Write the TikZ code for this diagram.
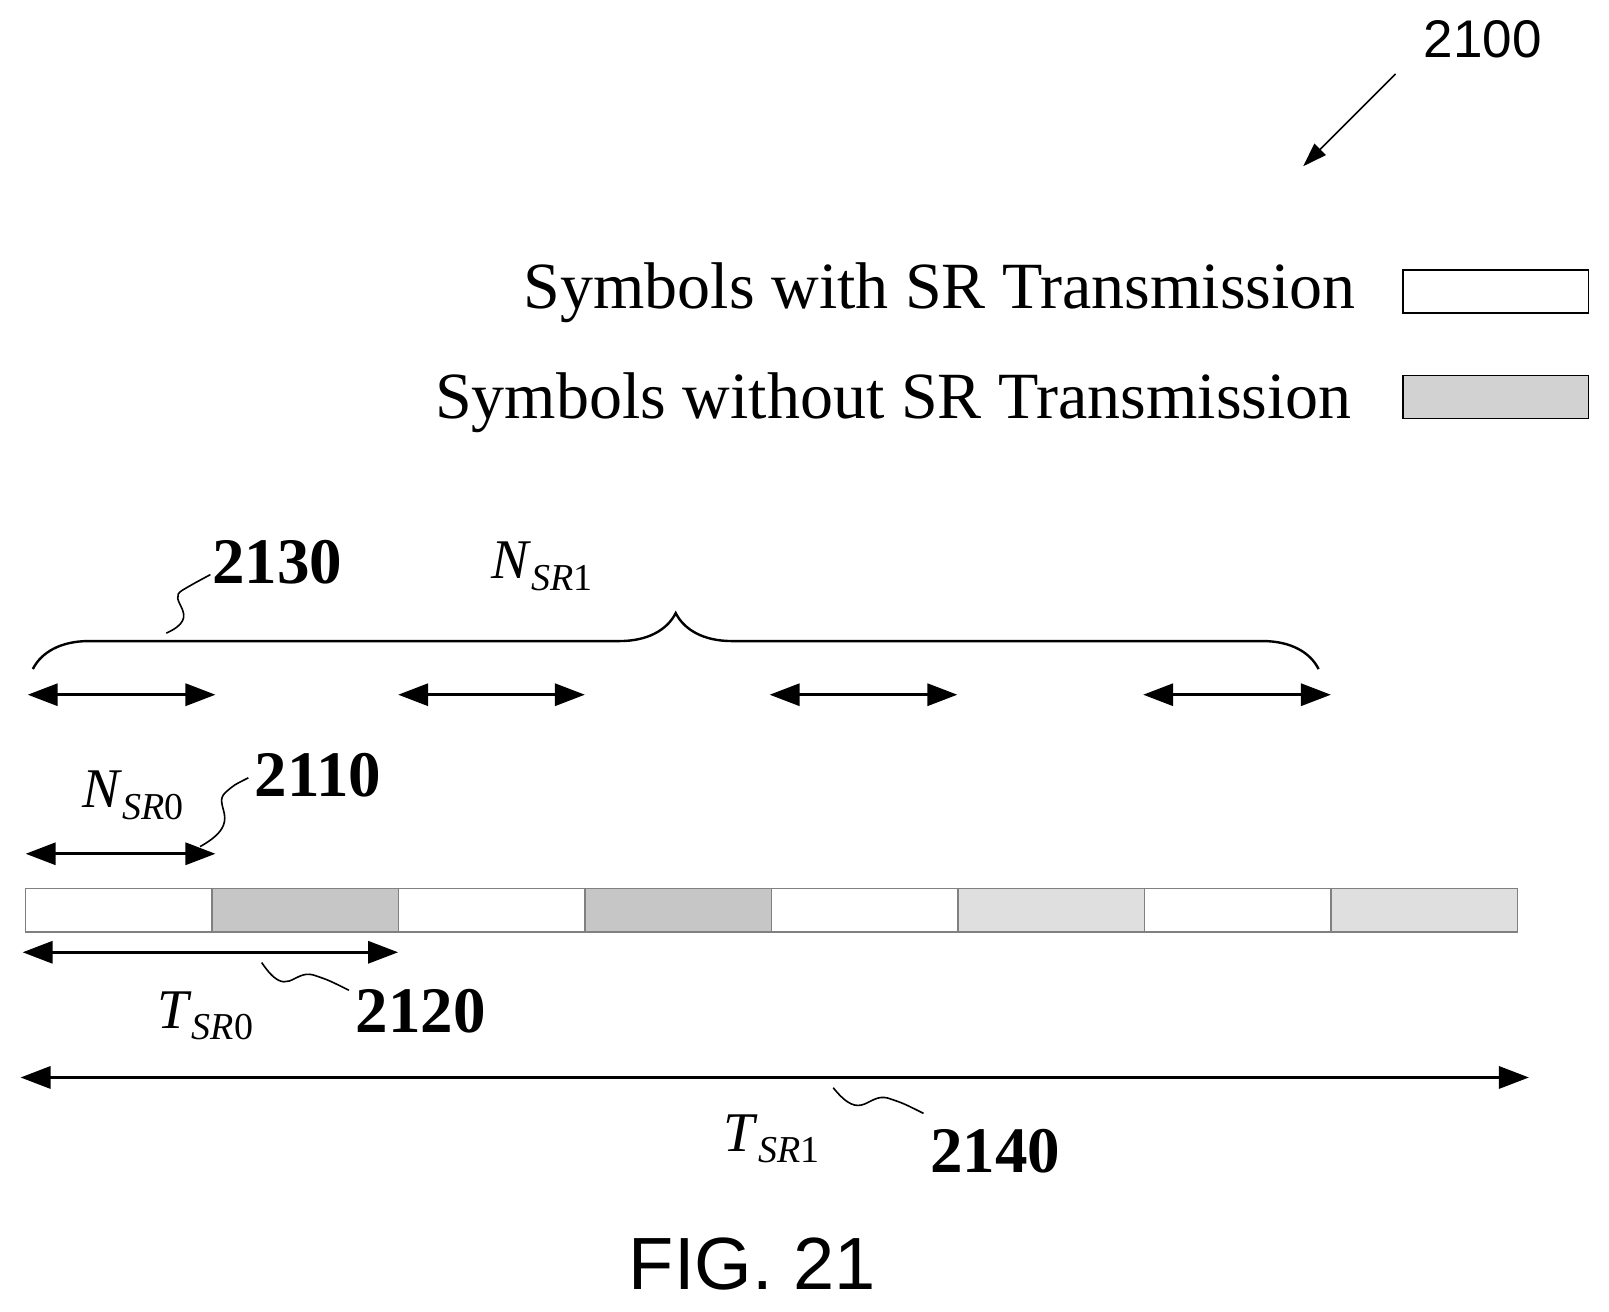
\documentclass[tikz,border=0pt]{standalone}
\usepackage{fontspec}
\setmainfont{Liberation Serif}
\setsansfont{Liberation Sans}
\usetikzlibrary{arrows.meta,decorations.pathreplacing}
\tikzset{every picture/.style={line width=0.75pt}}
\tikzset{
  dim/.style={line width=1.6pt,{Triangle[length=15pt,width=11pt]}-{Triangle[length=15pt,width=11pt]}},
  refnum/.style={font=\fontsize{32.5}{36}\selectfont\bfseries,inner sep=0pt},
  symlabel/.style={font=\fontsize{28}{31}\selectfont,inner sep=0pt},
  squig/.style={line width=0.8pt}
}
\newcommand{\symb}[2]{\textit{#1}\raisebox{-0.45ex}{\fontsize{19}{21}\selectfont\textit{SR}#2}}
\begin{document}
\begin{tikzpicture}[x=0.513pt,y=-0.513pt]
	\useasboundingbox (0,0) rectangle (1568,1278);

	%reference numeral
	\node (fignum) [font=\sffamily\fontsize{26.5}{30}\selectfont,inner sep=0pt] at (1445,38) {2100};
	\draw [-{Triangle[length=12pt,width=8pt]}] (1360,72) -- (1270,162);

	%legend
	\node (legwith) [font=\fontsize{33}{36}\selectfont,anchor=east,inner sep=0pt] at (1322,285) {Symbols with SR Transmission};
	\node (legwithout) [font=\fontsize{33}{36}\selectfont,anchor=east,inner sep=0pt] at (1318,392) {Symbols without SR Transmission};
	\draw [fill=white] (1367,263) rectangle (1548,305);
	\draw [fill=gray!35] (1367,366) rectangle (1548,408);

	%brace
	\draw [line width=1.2pt,decorate,decoration={brace,amplitude=28pt,aspect=0.5}] (32,652) -- (1285,652);
	\node (nsr1) [symlabel] at (528,552) {\symb{N}{1}};
	\node (n2130) [refnum] at (270,548) {2130};
	\draw [squig] (162,617) .. controls (200,600) and (160,585) .. (178,575) .. controls (190,568) .. (205,560);

	%period arrows
	\foreach \xa/\xb in {27/210,388/570,750/933,1114/1297}
	  \draw [dim] (\xa,677) -- (\xb,677);

	%N_SR0
	\node (nsr0) [symlabel] at (130,775) {\symb{N}{0}};
	\node (n2110) [refnum] at (310,755) {2110};
	\draw [squig] (195,825) .. controls (240,800) and (205,785) .. (220,772) .. controls (228,765) .. (242,758);
	\draw [dim] (25,832) -- (210,832);

	%symbol bar
	\foreach \i in {0,...,7} {
	  \pgfmathsetmacro{\xa}{25+\i*181.75}
	  \pgfmathsetmacro{\xb}{25+(\i+1)*181.75}
	  \ifodd\i
	    \ifnum\i<4 \draw [draw=gray,fill=gray!45] (\xa,866) rectangle (\xb,908);
	    \else \draw [draw=gray,fill=gray!25] (\xa,866) rectangle (\xb,908); \fi
	  \else
	    \draw [draw=gray,fill=white] (\xa,866) rectangle (\xb,908);
	  \fi
	}

	%T_SR0
	\draw [dim] (22,928) -- (388,928);
	\draw [squig] (255,938) .. controls (280,975) and (285,945) .. (305,950) .. controls (320,955) .. (340,965);
	\node (tsr0) [symlabel] at (200,990) {\symb{T}{0}};
	\node (n2120) [refnum] at (410,985) {2120};

	%T_SR1
	\draw [dim] (20,1050) -- (1490,1050);
	\draw [squig] (812,1060) .. controls (840,1095) and (845,1065) .. (865,1070) .. controls (880,1075) .. (900,1085);
	\node (tsr1) [symlabel] at (752,1110) {\symb{T}{1}};
	\node (n2140) [refnum] at (970,1122) {2140};

	%caption
	\node (caption) [font=\sffamily\fontsize{37}{42}\selectfont,inner sep=0pt] at (733,1232) {FIG. 21};
\end{tikzpicture}
\end{document}
